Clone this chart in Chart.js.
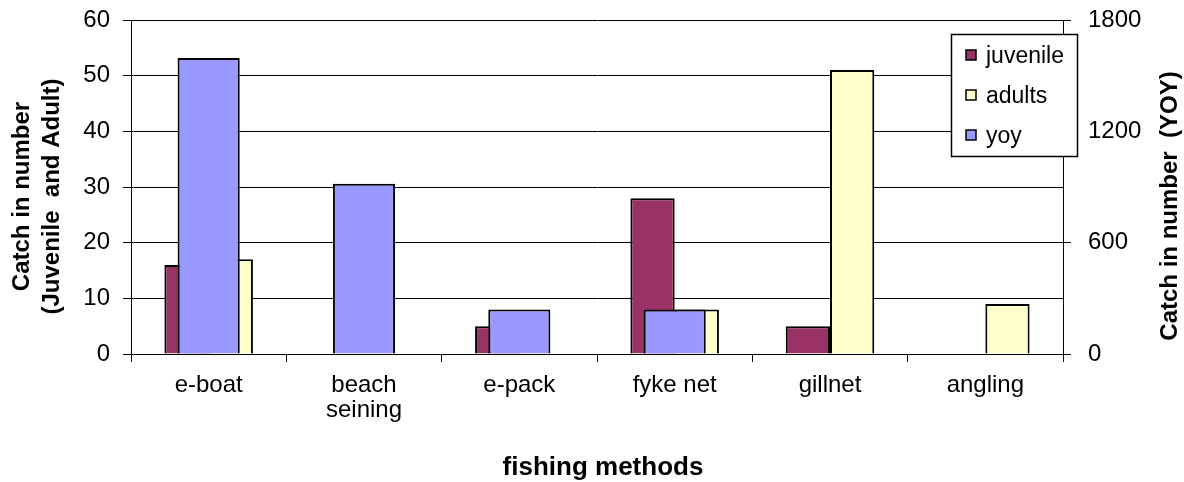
<!DOCTYPE html>
<html>
<head>
<meta charset="utf-8">
<title>Catch by fishing method</title>
<script src="https://cdn.jsdelivr.net/npm/chart.js@4.4.1/dist/chart.umd.min.js"></script>
<style>
  html, body { margin: 0; padding: 0; background: #ffffff; }
  #wrap { width: 1184px; height: 482px; }
</style>
</head>
<body>
<div id="wrap"><canvas id="catchChart" width="1184" height="482"></canvas></div>
<script>
// Fishing methods along the category axis
const methods = ['e-boat', ['beach', 'seining'], 'e-pack', 'fyke net', 'gillnet', 'angling'];

// Catch counts per method (left axis: juvenile and adults; right axis: young-of-year)
const juvenile = [16, 0, 5, 28, 5, 0];
const adults   = [17, 0, 0, 8, 51, 9];
const yoy      = [1595, 918, 240, 240, 0, 0];

// Axis tick settings
const leftTicks  = { min: 0, max: 60, step: 10 };
const rightTicks = { min: 0, max: 1800, step: 600 };

// Axis titles
const leftTitle  = ['Catch in number', '(Juvenile  and Adult)'];
const rightTitle = 'Catch in number  (YOY)';
const bottomTitle = 'fishing methods';

const FONT = '"Liberation Sans", Arial, Helvetica, sans-serif';

// Draws the rotated axis titles
const axisTitles = {
  id: 'axisTitles',
  afterDraw(chart) {
    const ctx = chart.ctx;
    ctx.save();
    ctx.fillStyle = '#000';
    ctx.textAlign = 'center';
    ctx.textBaseline = 'alphabetic';
    ctx.font = 'bold 24px ' + FONT;

    ctx.save();
    ctx.translate(29, 196.5);
    ctx.rotate(-Math.PI / 2);
    ctx.fillText(leftTitle[0], 0, 0);
    ctx.fillText(leftTitle[1], 0, 30);
    ctx.restore();

    ctx.save();
    ctx.translate(1177, 206);
    ctx.rotate(-Math.PI / 2);
    ctx.fillText(rightTitle, 0, 0);
    ctx.restore();

    ctx.font = 'bold 26px ' + FONT;
    ctx.fillText(bottomTitle, 603, 475);
    ctx.restore();
  }
};

// Boxed legend inside the plot, top right
const boxLegend = {
  id: 'boxLegend',
  afterDraw(chart) {
    const ctx = chart.ctx;
    const x = 951, y = 34, w = 126, h = 122;
    ctx.save();
    ctx.fillStyle = '#fff';
    ctx.fillRect(x, y, w, h);
    ctx.strokeStyle = '#000';
    ctx.lineWidth = 1.5;
    ctx.strokeRect(x + 0.5, y + 0.5, w, h);
    ctx.font = '23px ' + FONT;
    ctx.textAlign = 'left';
    ctx.textBaseline = 'alphabetic';
    chart.data.datasets.forEach((ds, i) => {
      const my = 50 + 40 * i;
      ctx.fillStyle = ds.backgroundColor;
      ctx.fillRect(966, my, 10, 10);
      ctx.lineWidth = 1.5;
      ctx.strokeStyle = '#000';
      ctx.strokeRect(966, my, 10, 10);
      ctx.fillStyle = '#000';
      ctx.fillText(ds.label, 986, 62.5 + 40 * i);
    });
    ctx.restore();
  }
};

const tickFont = { family: FONT, size: 24 };

// Fixed scale boxes so the plot area sits at a set place in the canvas
const fixWidth = (w) => (s) => {
  s.width = w;
  s.paddingTop = 0;
  s.paddingBottom = 0;
};
const fixHeight = (h) => (s) => {
  s.height = h;
  s.paddingLeft = 0;
  s.paddingRight = 0;
};

new Chart(document.getElementById('catchChart'), {
  type: 'bar',
  data: {
    labels: methods,
    datasets: [
      {
        label: 'juvenile',
        data: juvenile,
        yAxisID: 'y',
        order: 1,
        backgroundColor: '#993366',
        borderColor: '#000',
        borderWidth: 2,
        categoryPercentage: 0.57,
        barPercentage: 1
      },
      {
        label: 'adults',
        data: adults,
        yAxisID: 'y',
        order: 1,
        backgroundColor: '#FFFFCC',
        borderColor: '#000',
        borderWidth: 2,
        categoryPercentage: 0.57,
        barPercentage: 1
      },
      {
        label: 'yoy',
        data: yoy,
        yAxisID: 'y2',
        order: 0,
        grouped: false,
        backgroundColor: '#9999FF',
        borderColor: '#000',
        borderWidth: 2,
        categoryPercentage: 0.4,
        barPercentage: 1
      }
    ]
  },
  options: {
    responsive: false,
    maintainAspectRatio: false,
    animation: false,
    layout: { padding: { top: 20, left: 0, right: 0, bottom: 0 } },
    plugins: {
      legend: { display: false },
      tooltip: { enabled: false }
    },
    scales: {
      x: {
        position: 'bottom',
        afterFit: fixHeight(128),
        grid: {
          display: true,
          drawOnChartArea: false,
          drawTicks: true,
          tickLength: 8,
          color: '#000',
          lineWidth: 1
        },
        border: { display: true, color: '#000', width: 1 },
        ticks: {
          color: '#000',
          font: { family: FONT, size: 24, lineHeight: 1.05 },
          padding: 11,
          maxRotation: 0,
          autoSkip: false
        }
      },
      y: {
        position: 'left',
        min: leftTicks.min,
        max: leftTicks.max,
        afterFit: fixWidth(131),
        grid: {
          color: '#000',
          lineWidth: 1,
          drawTicks: true,
          tickLength: 8
        },
        border: { display: true, color: '#000', width: 1 },
        ticks: {
          stepSize: leftTicks.step,
          color: '#000',
          font: tickFont,
          padding: 13
        }
      },
      y2: {
        position: 'right',
        min: rightTicks.min,
        max: rightTicks.max,
        afterFit: fixWidth(121),
        grid: {
          drawOnChartArea: false,
          color: '#000',
          lineWidth: 1,
          drawTicks: true,
          tickLength: 8
        },
        border: { display: true, color: '#000', width: 1 },
        ticks: {
          stepSize: rightTicks.step,
          color: '#000',
          font: tickFont,
          padding: 17,
          callback: (v) => String(v)
        }
      }
    }
  },
  plugins: [axisTitles, boxLegend]
});
</script>
</body>
</html>
